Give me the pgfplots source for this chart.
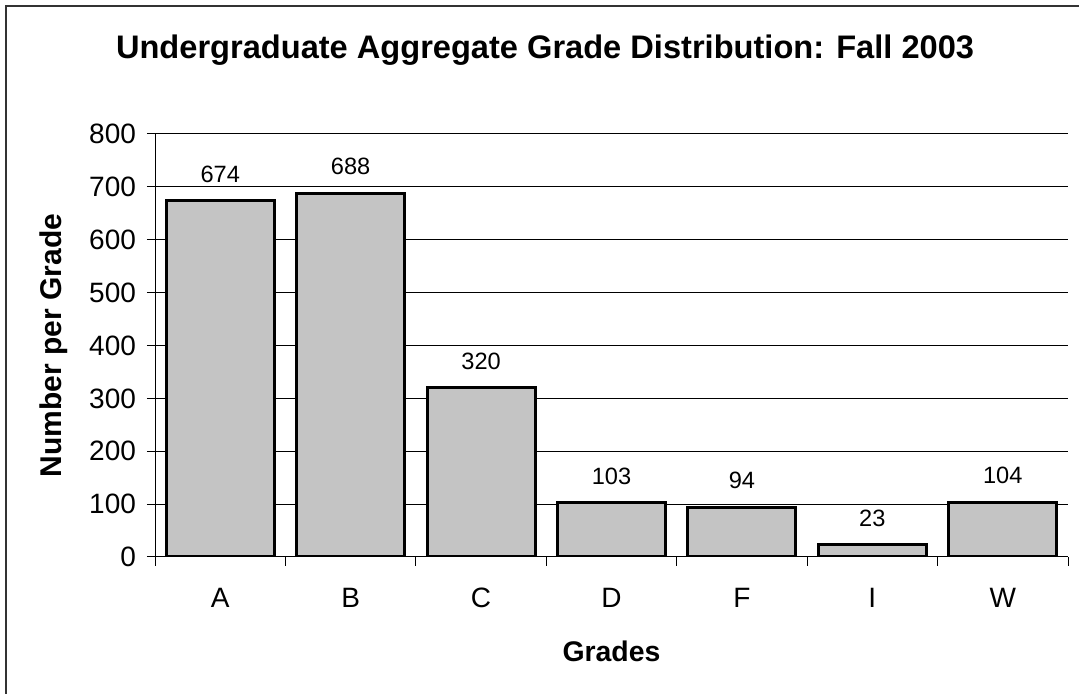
\documentclass[border=0pt]{standalone}
\usepackage{pgfplots}
\pgfplotsset{compat=1.18}
\usepackage{fontspec}
\setmainfont{Liberation Sans}
\definecolor{barfill}{RGB}{196,196,196}
\begin{document}
\begin{tikzpicture}
\useasboundingbox (-77.5pt,-68.5pt) rectangle (462pt,278.5pt);
\draw[line width=1pt, black!80] (-74.5pt,-68.5pt) -- (-74.5pt,275.5pt) -- (462pt,275.5pt);
\begin{axis}[
  at={(0pt,0pt)}, anchor=south west,
  width=456.5pt, height=211.5pt, scale only axis,
  ybar, bar width=54pt,
  xmin=-0.5, xmax=6.5, ymin=0, ymax=800,
  ytick={0,100,...,800},
  xtick={0,...,6},
  xticklabels={A,B,C,D,F,I,W},
  minor xtick={-0.5,0.5,...,6.5},
  major x tick style={draw=none},
  axis x line*=bottom, axis y line*=left,
  axis line style={line width=0.5pt, -},
  ymajorgrids, grid style={line width=0.5pt, black},
  tick style={line width=0.5pt, black},
  tick align=outside,
  major tick length=4pt, minor tick length=4.5pt,
  ticklabel style={font=\fontsize{14}{16}\selectfont},
  /pgf/number format/assume math mode=true,
  yticklabel style={xshift=-2pt},
  xticklabel style={yshift=-8pt},
  nodes near coords,
  nodes near coords style={font=\fontsize{11.8}{14}\selectfont, yshift=5pt, black},
  title={\bfseries Undergraduate Aggregate Grade Distribution: Fall 2003},
  title style={font=\fontsize{16.3}{19}\selectfont, at={(axis description cs:0.4272,1.170)}, anchor=center},
  xlabel={\bfseries Grades},
  xlabel style={font=\fontsize{14.2}{16}\selectfont, at={(axis description cs:0.5,-0.2222)}, anchor=center},
  ylabel={\bfseries Number per Grade},
  ylabel style={font=\fontsize{15}{17}\selectfont, at={(axis description cs:-0.1112,0.5)}, anchor=center},
]
\addplot[draw=black, line width=1.5pt, fill=barfill] coordinates {(0,674) (1,688) (2,320) (3,103) (4,94) (5,23) (6,104)};
\end{axis}
\end{tikzpicture}
\end{document}
